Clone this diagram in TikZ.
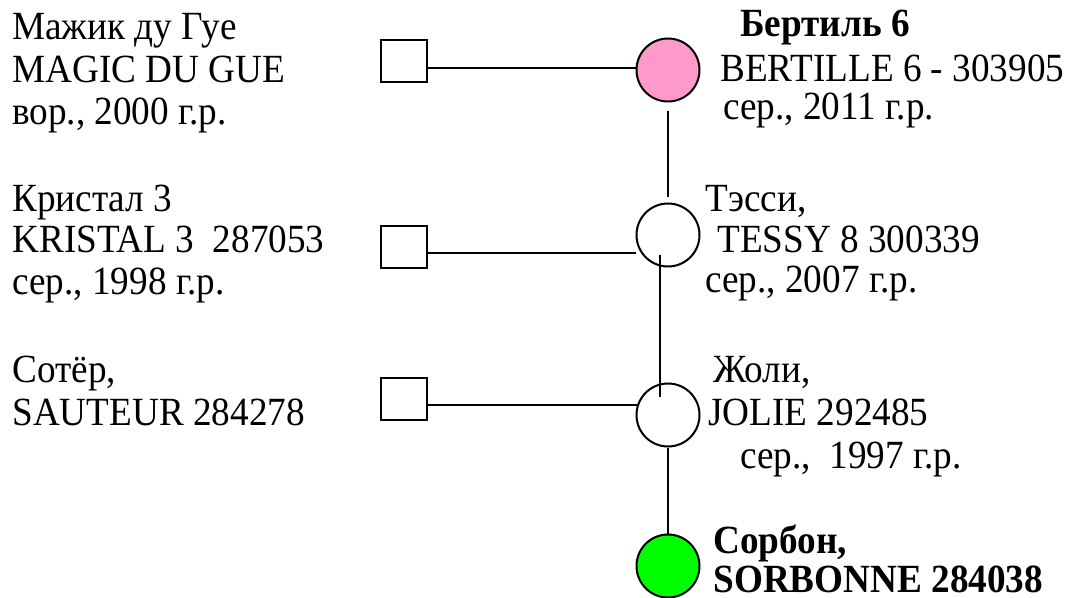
\documentclass[tikz,border=0pt]{standalone}
\usepackage{fontspec}
\setmainfont{Liberation Serif}[FakeStretch=0.93]
\usepackage{tikz}
\usetikzlibrary{arrows}
\pgfdeclarelayer{edgelayer}
\pgfdeclarelayer{nodelayer}
\pgfsetlayers{edgelayer,nodelayer,main}
\definecolor{marepink}{RGB}{255,153,204}
\definecolor{foalgreen}{RGB}{0,255,0}
\tikzstyle{none}=[inner sep=0pt]
\tikzstyle{text node}=[anchor=base west, inner sep=0pt]
\tikzstyle{square node}=[rectangle, draw, line width=1.4pt, minimum width=23pt, minimum height=21pt, inner sep=0pt]
\tikzstyle{white node}=[circle, draw, line width=1pt, minimum size=31.5pt, inner sep=0pt]
\tikzstyle{pink node}=[white node, fill=marepink]
\tikzstyle{green node}=[white node, fill=foalgreen]
\tikzstyle{new edge style 1}=[line width=1pt]

\begin{document}
\begin{tikzpicture}[x=0.5pt, y=-0.5pt, font=\fontsize{20pt}{24pt}\selectfont]
	\useasboundingbox (0, 0) rectangle (1065, 598);
	\begin{pgfonlayer}{nodelayer}
		\node [style=square node] (0) at (404, 61) {};
		\node [style=square node] (1) at (404, 247) {};
		\node [style=square node] (2) at (404, 399) {};
		\node [style=pink node] (3) at (668, 70) {};
		\node [style=white node] (4) at (668, 235) {};
		\node [style=white node] (5) at (668, 415) {};
		\node [style=green node] (6) at (668, 566) {};
		\node [style=none] (7) at (428, 68) {};
		\node [style=none] (8) at (637, 68) {};
		\node [style=none] (9) at (668, 111) {};
		\node [style=none] (10) at (668, 197) {};
		\node [style=none] (11) at (428, 253) {};
		\node [style=none] (12) at (636, 253) {};
		\node [style=none] (13) at (660, 255) {};
		\node [style=none] (14) at (660, 397) {};
		\node [style=none] (15) at (428, 405) {};
		\node [style=none] (16) at (637, 405) {};
		\node [style=text node] (17) at (12, 40) {Мажик ду Гуе};
		\node [style=text node] (18) at (12, 83) {MAGIC DU GUE};
		\node [style=text node] (19) at (12, 125) {вор., 2000 г.р.};
		\node [style=text node] (20) at (12, 212) {Кристал 3};
		\node [style=text node] (21) at (12, 253) {KRISTAL 3\ \ 287053};
		\node [style=text node] (22) at (12, 295) {сер., 1998 г.р.};
		\node [style=text node] (23) at (12, 383) {Сотёр,};
		\node [style=text node] (24) at (12, 425) {SAUTEUR 284278};
		\node [style=text node] (25) at (740, 37) {\bfseries Бертиль 6};
		\node [style=text node] (26) at (720, 82) {BERTILLE 6 - 303905};
		\node [style=text node] (27) at (723, 120) {сер., 2011 г.р.};
		\node [style=text node] (28) at (705, 212) {Тэсси,};
		\node [style=text node] (29) at (717, 253) {TESSY 8 300339};
		\node [style=text node] (30) at (705, 293) {сер., 2007 г.р.};
		\node [style=text node] (31) at (713, 383) {Жоли,};
		\node [style=text node] (32) at (708, 425) {JOLIE 292485};
		\node [style=text node] (33) at (740, 468) {сер.,\ \ 1997 г.р.};
		\node [style=text node] (34) at (713, 553) {\bfseries Сорбон,};
		\node [style=text node] (35) at (713, 592) {\bfseries SORBONNE 284038};
	\end{pgfonlayer}
	\begin{pgfonlayer}{edgelayer}
		\draw [style=new edge style 1] (7.center) to (8.center);
		\draw [style=new edge style 1] (9.center) to (10.center);
		\draw [style=new edge style 1] (11.center) to (12.center);
		\draw [style=new edge style 1] (13.center) to (14.center);
		\draw [style=new edge style 1] (15.center) to (16.center);
		\draw [style=new edge style 1] (5) to (6);
	\end{pgfonlayer}
\end{tikzpicture}
\end{document}
